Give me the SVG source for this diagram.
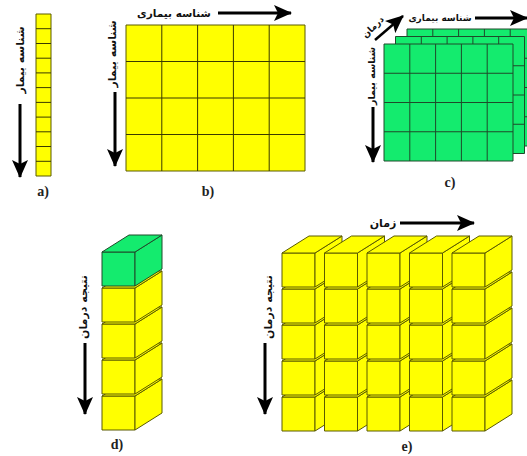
<svg xmlns="http://www.w3.org/2000/svg" xmlns:xlink="http://www.w3.org/1999/xlink" width="527" height="456" viewBox="0 0 527 456">
<style>
.y{fill:#ffff00;stroke:#5a5a00;stroke-width:1;stroke-linejoin:round}
.g{fill:#14eb6e;stroke:#1f4a2a;stroke-width:1;stroke-linejoin:round}
.gl{fill:none;stroke:#3a3a00;stroke-width:1}
.ggl{fill:none;stroke:#1f4a2a;stroke-width:1}
.ar{stroke:#000;stroke-width:3;fill:none}
.fa{font-family:"DejaVu Sans",sans-serif;font-weight:bold;font-size:11px;fill:#111;text-anchor:middle;dominant-baseline:central}
.lb{font-family:"Liberation Serif",serif;font-weight:bold;font-size:14px;fill:#222;text-anchor:middle}
</style>
<defs>
<marker id="ah" markerUnits="userSpaceOnUse" markerWidth="18" markerHeight="16" viewBox="0 0 18 16" refX="17" refY="8" orient="auto">
<path d="M0,0 L18,8 L0,16 L4,8 Z" fill="#000"/>
</marker>
<g id="cy">
<rect class="y" x="0" y="0" width="33" height="34"/>
<path class="y" d="M33,0 L60,-17 L60,17 L33,34 Z"/>
<path class="y" d="M0,0 L27,-17 L60,-17 L33,0 Z"/>
</g>
<g id="cg">
<rect class="g" x="0" y="0" width="33" height="34"/>
<path class="g" d="M33,0 L60,-17 L60,17 L33,34 Z"/>
<path class="g" d="M0,0 L27,-17 L60,-17 L33,0 Z"/>
</g>
<g id="gridc">
<rect class="g" x="0" y="0" width="129" height="117"/>
<path class="ggl" d="M25.8,0V117M51.6,0V117M77.4,0V117M103.2,0V117M0,29.25H129M0,58.5H129M0,87.75H129"/>
</g>
</defs>

<g id="panel-a">
<rect class="y" x="36" y="14" width="15" height="162"/>
<path class="gl" d="M36,28.7H51M36,43.5H51M36,58.2H51M36,72.9H51M36,87.6H51M36,102.4H51M36,117.1H51M36,131.8H51M36,146.5H51M36,161.3H51"/>
<text class="fa" transform="translate(20,60) rotate(-90)">شناسه بیمار</text>
<text class="lb" x="43" y="196">a)</text>
</g>

<g id="panel-b">
<rect class="y" x="126" y="25" width="179" height="146"/>
<path class="gl" d="M161.8,25V171M197.6,25V171M233.4,25V171M269.2,25V171M126,61.5H305M126,98H305M126,134.5H305"/>
<text class="fa" style="font-size:10.5px" x="174" y="13">شناسه بیماری</text>
<text class="fa" transform="translate(112,54) rotate(-90)">شناسه بیمار</text>
<text class="lb" x="208" y="196">b)</text>
</g>

<g id="panel-c">
<use xlink:href="#gridc" x="407" y="29"/>
<use xlink:href="#gridc" x="395.5" y="36.5"/>
<use xlink:href="#gridc" x="384" y="44"/>
<text class="fa" style="font-size:9px" x="440" y="18">شناسه بیماری</text>
<text class="fa" style="font-size:9px" transform="translate(373,27) rotate(-45)">درمان</text>
<text class="fa" style="font-size:9.5px" transform="translate(371,76) rotate(-90)">شناسه بیمار</text>
<text class="lb" x="450" y="187">c)</text>
</g>

<g id="panel-d">
<use xlink:href="#cy" x="102" y="396"/>
<use xlink:href="#cy" x="102" y="360"/>
<use xlink:href="#cy" x="102" y="324"/>
<use xlink:href="#cy" x="102" y="288"/>
<use xlink:href="#cg" x="102" y="252"/>
<text class="fa" transform="translate(83,307) rotate(-90)">نتیجه درمان</text>
<text class="lb" x="117" y="449">d)</text>
</g>

<g id="panel-e">
<use xlink:href="#cy" x="282" y="397"/><use xlink:href="#cy" x="282" y="361"/><use xlink:href="#cy" x="282" y="325"/><use xlink:href="#cy" x="282" y="289"/><use xlink:href="#cy" x="282" y="253"/>
<use xlink:href="#cy" x="324.5" y="397"/><use xlink:href="#cy" x="324.5" y="361"/><use xlink:href="#cy" x="324.5" y="325"/><use xlink:href="#cy" x="324.5" y="289"/><use xlink:href="#cy" x="324.5" y="253"/>
<use xlink:href="#cy" x="367" y="397"/><use xlink:href="#cy" x="367" y="361"/><use xlink:href="#cy" x="367" y="325"/><use xlink:href="#cy" x="367" y="289"/><use xlink:href="#cy" x="367" y="253"/>
<use xlink:href="#cy" x="409.5" y="397"/><use xlink:href="#cy" x="409.5" y="361"/><use xlink:href="#cy" x="409.5" y="325"/><use xlink:href="#cy" x="409.5" y="289"/><use xlink:href="#cy" x="409.5" y="253"/>
<use xlink:href="#cy" x="452" y="397"/><use xlink:href="#cy" x="452" y="361"/><use xlink:href="#cy" x="452" y="325"/><use xlink:href="#cy" x="452" y="289"/><use xlink:href="#cy" x="452" y="253"/>
<text class="fa" x="383" y="223">زمان</text>
<text class="fa" transform="translate(268,307) rotate(-90)">نتیجه درمان</text>
<text class="lb" x="407" y="451">e)</text>
</g>

<g id="connectors">
<line class="ar" x1="20" y1="104" x2="20" y2="177" marker-end="url(#ah)"/>
<line class="ar" x1="218" y1="13" x2="291" y2="13" marker-end="url(#ah)"/>
<line class="ar" x1="115" y1="92" x2="115" y2="166" marker-end="url(#ah)"/>
<line class="ar" x1="475" y1="18" x2="527" y2="18" marker-end="url(#ah)"/>
<line class="ar" style="stroke-width:2.5" x1="375" y1="40" x2="403" y2="16" marker-end="url(#ah)"/>
<line class="ar" x1="373" y1="107" x2="373" y2="162" marker-end="url(#ah)"/>
<line class="ar" x1="85" y1="343" x2="85" y2="414" marker-end="url(#ah)"/>
<line class="ar" x1="400" y1="223" x2="474" y2="223" marker-end="url(#ah)"/>
<line class="ar" x1="265" y1="343" x2="265" y2="414" marker-end="url(#ah)"/>
</g>
</svg>
